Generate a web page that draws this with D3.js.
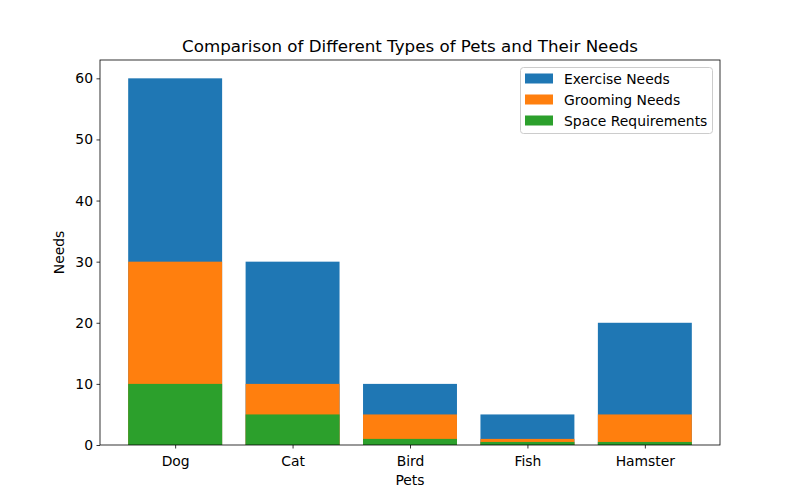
<!DOCTYPE html>
<html><head><meta charset="utf-8">
<script src="https://cdn.jsdelivr.net/npm/d3@7"></script>
<style>body{margin:0;background:#fff}svg{font-family:"DejaVu Sans",sans-serif}</style>
</head><body>
<svg id="c" width="800" height="500"></svg>
<script>
const pets = ["Dog","Cat","Bird","Fish","Hamster"];
const exerciseNeeds = [60,30,10,5,20];
const groomingNeeds = [30,10,5,1,5];
const spaceRequirements = [10,5,1,0.5,0.5];
const seriesNames = ["Exercise Needs","Grooming Needs","Space Requirements"];
const colors = ["#1f77b4","#ff7f0e","#2ca02c"];
const yTicks = [0,10,20,30,40,50,60];

const svg = d3.select("#c");
const L=100,R=720,T=60,B=445;
const x = d3.scaleLinear().domain([-0.64,4.64]).range([L,R]);
const y = d3.scaleLinear().domain([0,63]).range([B,T]);
const bw = x(0.8)-x(0);
const series = [exerciseNeeds,groomingNeeds,spaceRequirements];
series.forEach((vals,si)=>{
  svg.append("g").selectAll("rect").data(vals).join("rect")
    .attr("x",(d,i)=>x(i)-bw/2).attr("width",bw)
    .attr("y",d=>y(d)).attr("height",d=>B-y(d))
    .attr("fill",colors[si]);
});
// axes
const xa = svg.append("g").attr("transform",`translate(0,${B})`)
  .call(d3.axisBottom(x).tickValues(d3.range(pets.length)).tickFormat(i=>pets[i]).tickSize(3.5).tickPadding(7.5));
const ya = svg.append("g").attr("transform",`translate(${L},0)`)
  .call(d3.axisLeft(y).tickValues(yTicks).tickSize(3.5).tickPadding(3.5));
[xa,ya].forEach(a=>{a.select(".domain").remove();a.selectAll("text").attr("font-size",13.9).attr("fill","#000").attr("font-family","DejaVu Sans");a.selectAll("line").attr("stroke","#000").attr("stroke-width",0.8);});
svg.append("rect").attr("x",L).attr("y",T).attr("width",R-L).attr("height",B-T)
  .attr("fill","none").attr("stroke","#000").attr("stroke-width",0.8);
// labels
svg.append("text").attr("x",(L+R)/2).attr("y",T-8).attr("text-anchor","middle").attr("font-size",16.7).text("Comparison of Different Types of Pets and Their Needs");
svg.append("text").attr("x",(L+R)/2).attr("y",485).attr("text-anchor","middle").attr("font-size",13.9).text("Pets");
svg.append("text").attr("transform",`translate(64,${(T+B)/2}) rotate(-90)`).attr("text-anchor","middle").attr("font-size",13.9).text("Needs");
// legend
const lg = svg.append("g");
lg.append("rect").attr("x",520.5).attr("y",67.5).attr("width",192).attr("height",66).attr("rx",3)
  .attr("fill","#fff").attr("fill-opacity",0.8).attr("stroke","#ccc").attr("stroke-width",1);
seriesNames.forEach((n,i)=>{
  const cy = 78.5+i*21;
  lg.append("rect").attr("x",525).attr("y",cy-5).attr("width",28).attr("height",10).attr("fill",colors[i]);
  lg.append("text").attr("x",564).attr("y",cy+5).attr("font-size",13.9).text(n);
});
</script>
</body></html>
